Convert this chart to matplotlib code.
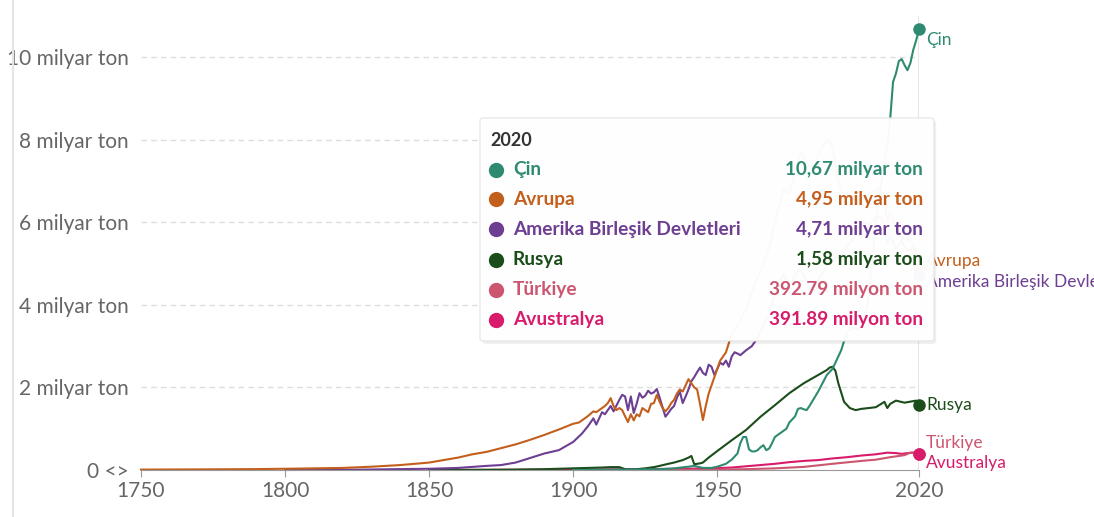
import matplotlib.pyplot as plt
from matplotlib.lines import Line2D
from matplotlib.patches import FancyBboxPatch

# --------------------
# Data (billion tonnes CO2)
# --------------------
china_years = [1900, 1920, 1930, 1935, 1940, 1942, 1945, 1948, 1950, 1953, 1955, 1957, 1958, 1959,
               1960, 1961, 1962, 1963, 1964, 1965, 1966, 1967, 1968, 1969, 1970, 1972, 1974, 1975,
               1977, 1978, 1979, 1980, 1981, 1982, 1985, 1988, 1990, 1993, 1995, 1997, 1999, 2000,
               2002, 2003, 2004, 2005, 2006, 2007, 2008, 2009, 2010, 2011, 2012, 2013, 2014, 2015,
               2016, 2017, 2018, 2019, 2020]
china_vals = [0.0, 0.01, 0.02, 0.04, 0.08, 0.1, 0.05, 0.05, 0.08, 0.15, 0.25, 0.4, 0.65, 0.8,
              0.8, 0.5, 0.45, 0.45, 0.48, 0.55, 0.6, 0.48, 0.52, 0.65, 0.8, 0.9, 1.0, 1.15,
              1.3, 1.48, 1.5, 1.47, 1.45, 1.55, 1.9, 2.3, 2.45, 2.9, 3.35, 3.45, 3.4, 3.55,
              3.95, 4.6, 5.3, 5.9, 6.5, 7.0, 7.4, 7.9, 8.5, 9.4, 9.6, 9.9, 9.95, 9.8,
              9.68, 9.85, 10.17, 10.4, 10.67]

europe_years = [1750, 1760, 1770, 1780, 1790, 1800, 1810, 1820, 1830, 1840, 1850, 1855, 1860, 1865,
                1870, 1875, 1880, 1885, 1890, 1895, 1900, 1902, 1905, 1907, 1908, 1910, 1911, 1912,
                1913, 1914, 1915, 1916, 1917, 1918, 1919, 1920, 1921, 1922, 1923, 1924, 1925, 1926,
                1927, 1928, 1929, 1930, 1931, 1932, 1933, 1934, 1935, 1936, 1937, 1938, 1939, 1940,
                1941, 1942, 1943, 1944, 1945, 1946, 1947, 1948, 1949, 1950, 1951, 1952, 1953, 1954,
                1955, 1957, 1960, 1963, 1965, 1968, 1970, 1973, 1975, 1979, 1980, 1982, 1985, 1987,
                1989, 1990, 1992, 1994, 1996, 1998, 2000, 2003, 2006, 2008, 2009, 2010, 2012, 2014,
                2016, 2018, 2019, 2020]
europe_vals = [0.01, 0.012, 0.015, 0.018, 0.022, 0.03, 0.04, 0.05, 0.08, 0.12, 0.18, 0.24, 0.3, 0.38,
               0.44, 0.53, 0.62, 0.73, 0.85, 0.98, 1.12, 1.15, 1.3, 1.42, 1.4, 1.5, 1.55, 1.62,
               1.74, 1.55, 1.45, 1.5, 1.45, 1.3, 1.16, 1.35, 1.2, 1.35, 1.3, 1.5, 1.45, 1.4,
               1.6, 1.62, 1.82, 1.65, 1.5, 1.42, 1.5, 1.62, 1.7, 1.85, 1.95, 1.9, 2.05, 2.2,
               2.1, 2.0, 1.95, 1.6, 1.21, 1.55, 1.85, 2.05, 2.25, 2.45, 2.65, 2.75, 2.85, 3.07,
               3.3, 3.5, 3.9, 4.5, 4.8, 5.4, 6.0, 6.8, 6.7, 7.7, 7.6, 7.3, 7.6, 7.9,
               8.0, 7.8, 7.0, 6.6, 6.7, 6.5, 6.5, 6.7, 6.8, 6.6, 6.0, 6.2, 5.9, 5.6,
               5.6, 5.5, 5.3, 4.95]

usa_years = [1800, 1820, 1850, 1860, 1870, 1875, 1880, 1885, 1890, 1895, 1900, 1903, 1905, 1907,
             1908, 1910, 1911, 1913, 1914, 1916, 1917, 1918, 1919, 1920, 1921, 1922, 1923, 1924,
             1925, 1926, 1927, 1928, 1929, 1930, 1931, 1932, 1933, 1934, 1935, 1936, 1937, 1938,
             1939, 1940, 1941, 1942, 1943, 1944, 1945, 1946, 1947, 1948, 1949, 1950, 1951, 1952,
             1953, 1954, 1955, 1956, 1957, 1958, 1960, 1962, 1964, 1966, 1968, 1970, 1973, 1975,
             1978, 1980, 1982, 1985, 1988, 1990, 1993, 1995, 1998, 2000, 2003, 2005, 2007, 2009,
             2010, 2012, 2014, 2016, 2018, 2019, 2020]
usa_vals = [0.0, 0.003, 0.03, 0.05, 0.1, 0.12, 0.18, 0.29, 0.4, 0.48, 0.68, 0.88, 1.05, 1.25,
            1.1, 1.4, 1.35, 1.55, 1.42, 1.7, 1.82, 1.78, 1.45, 1.78, 1.38, 1.6, 1.86, 1.75,
            1.8, 1.92, 1.85, 1.88, 1.96, 1.75, 1.52, 1.29, 1.38, 1.48, 1.55, 1.75, 1.9, 1.62,
            1.78, 1.95, 2.15, 2.25, 2.37, 2.48, 2.35, 2.3, 2.55, 2.5, 2.3, 2.45, 2.6, 2.55,
            2.65, 2.5, 2.75, 2.85, 2.82, 2.78, 2.9, 3.0, 3.2, 3.5, 3.8, 4.3, 4.75, 4.45,
            4.85, 4.75, 4.4, 4.6, 4.95, 5.1, 5.2, 5.4, 5.7, 6.0, 5.95, 6.13, 6.13, 5.48,
            5.68, 5.35, 5.55, 5.3, 5.4, 5.25, 4.71]

russia_years = [1850, 1860, 1870, 1880, 1890, 1900, 1905, 1910, 1913, 1916, 1918, 1920, 1922, 1925,
                1928, 1930, 1933, 1935, 1938, 1940, 1941, 1942, 1943, 1944, 1945, 1947, 1950, 1955,
                1960, 1965, 1970, 1975, 1980, 1985, 1988, 1989, 1990, 1991, 1992, 1994, 1996, 1998,
                2000, 2005, 2008, 2009, 2010, 2012, 2015, 2019, 2020]
russia_vals = [0.0, 0.002, 0.005, 0.01, 0.02, 0.04, 0.05, 0.06, 0.07, 0.07, 0.02, 0.01, 0.02, 0.04,
               0.07, 0.1, 0.15, 0.18, 0.24, 0.3, 0.34, 0.14, 0.15, 0.16, 0.18, 0.3, 0.46, 0.72,
               0.97, 1.29, 1.57, 1.86, 2.1, 2.3, 2.42, 2.48, 2.5, 2.4, 2.1, 1.65, 1.5, 1.45,
               1.48, 1.52, 1.65, 1.5, 1.6, 1.68, 1.63, 1.68, 1.58]

turkey_years = [1920, 1940, 1950, 1960, 1970, 1980, 1990, 2000, 2005, 2010, 2015, 2017, 2018, 2019, 2020]
turkey_vals = [0.0, 0.005, 0.01, 0.02, 0.04, 0.075, 0.15, 0.22, 0.25, 0.31, 0.36, 0.42, 0.42, 0.40, 0.393]

australia_years = [1860, 1900, 1920, 1940, 1950, 1955, 1960, 1965, 1970, 1975, 1980, 1985, 1990, 1995,
                   2000, 2005, 2009, 2012, 2014, 2016, 2018, 2019, 2020]
australia_vals = [0.001, 0.01, 0.02, 0.03, 0.045, 0.06, 0.09, 0.12, 0.15, 0.19, 0.22, 0.24, 0.28, 0.31,
                  0.35, 0.38, 0.42, 0.41, 0.39, 0.41, 0.42, 0.41, 0.392]

names = ["Çin", "Avrupa", "Amerika Birleşik Devletleri", "Rusya", "Türkiye", "Avustralya"]
values_text = ["10,67 milyar ton", "4,95 milyar ton", "4,71 milyar ton", "1,58 milyar ton",
               "392.79 milyon ton", "391.89 milyon ton"]
colors = ["#2e8b71", "#c35f1c", "#6d3e91", "#1b4d1b", "#cc5670", "#d81b6a"]
label_y = [10.42, 5.05, 4.55, 1.58, 0.66, 0.18]   # end-label positions (billion t)

yticks = [0, 2, 4, 6, 8, 10]
ytick_labels = ["0 <>", "2 milyar ton", "4 milyar ton", "6 milyar ton", "8 milyar ton", "10 milyar ton"]
xticks = [1750, 1800, 1850, 1900, 1950, 2020]

series = [(china_years, china_vals), (europe_years, europe_vals), (usa_years, usa_vals),
          (russia_years, russia_vals), (turkey_years, turkey_vals), (australia_years, australia_vals)]

# --------------------
# Figure
# --------------------
plt.rcParams['font.family'] = ['Lato', 'DejaVu Sans']
W, H = 1094, 517
fig = plt.figure(figsize=(W / 100, H / 100), dpi=100)
ax = fig.add_axes([141 / W, 47 / H, 778 / W, 454.3 / H])
ax.set_xlim(1750, 2020)
ax.set_ylim(0, 11)

for s in ["top", "right", "left"]:
    ax.spines[s].set_visible(False)
ax.spines["bottom"].set_color("#999999")
ax.set_yticks(yticks)
ax.set_yticklabels(ytick_labels)
ax.tick_params(axis="y", length=0, pad=9, labelsize=15, labelcolor="#666666")
ax.set_xticks(xticks)
ax.tick_params(axis="x", length=5, color="#999999", labelsize=15, labelcolor="#666666", pad=3)
for y in yticks[1:]:
    ax.axhline(y, color="#dddddd", lw=1, ls=(0, (4, 3)), zorder=0)
ax.axvline(2020, color="#e0e0e0", lw=1.2, zorder=0)

# draw in reverse order so China is on top
for (yrs, vals), c in list(zip(series, colors))[::-1]:
    ax.plot(yrs, vals, color=c, lw=1.5, zorder=2, clip_on=False)

for (yrs, vals), c, n, ly in zip(series, colors, names, label_y):
    ax.plot([yrs[-1]], [vals[-1]], "o", color=c, ms=8, zorder=3, clip_on=False)
    ax.annotate(n, (2020, ly), xytext=(5, 0), textcoords="offset points", va="center",
                ha="left", color=c, fontsize=12.5, annotation_clip=False)

# left border of the page
fig.add_artist(Line2D([13 / W, 13 / W], [0, 1], color="#e6e6e6", lw=1.5))

# --------------------
# Tooltip
# --------------------
bx0, by0, bx1, by1 = 480, 118, 934, 341
shadow = FancyBboxPatch((bx0 / W + 0.002, 1 - (by1 + 3) / H), (bx1 - bx0) / W, (by1 - by0) / H,
                        boxstyle="round,pad=0,rounding_size=0.004", transform=fig.transFigure,
                        facecolor="#000000", alpha=0.06, edgecolor="none", zorder=4)
box = FancyBboxPatch((bx0 / W, 1 - by1 / H), (bx1 - bx0) / W, (by1 - by0) / H,
                     boxstyle="round,pad=0,rounding_size=0.004", transform=fig.transFigure,
                     facecolor="white", alpha=0.97, edgecolor="#e2e2e2", lw=0.8, zorder=5)
fig.add_artist(shadow)
fig.add_artist(box)
fig.text(490 / W, 1 - 140 / H, "2020", fontsize=13, fontweight="bold", color="#333333",
         va="center", ha="left", zorder=6)
row_y = [170, 199, 229, 260, 290, 320]
for n, v, c, ry in zip(names, values_text, colors, row_y):
    fig.add_artist(Line2D([496 / W], [1 - ry / H], marker="o", ms=10, color=c,
                          transform=fig.transFigure, zorder=6))
    fig.text(513 / W, 1 - ry / H, n, fontsize=13.8, fontweight="bold", color=c,
             va="center", ha="left", zorder=6)
    fig.text(923 / W, 1 - ry / H, v, fontsize=13.6, fontweight="bold", color=c,
             va="center", ha="right", zorder=6)

fig.savefig("out.png", dpi=100)
